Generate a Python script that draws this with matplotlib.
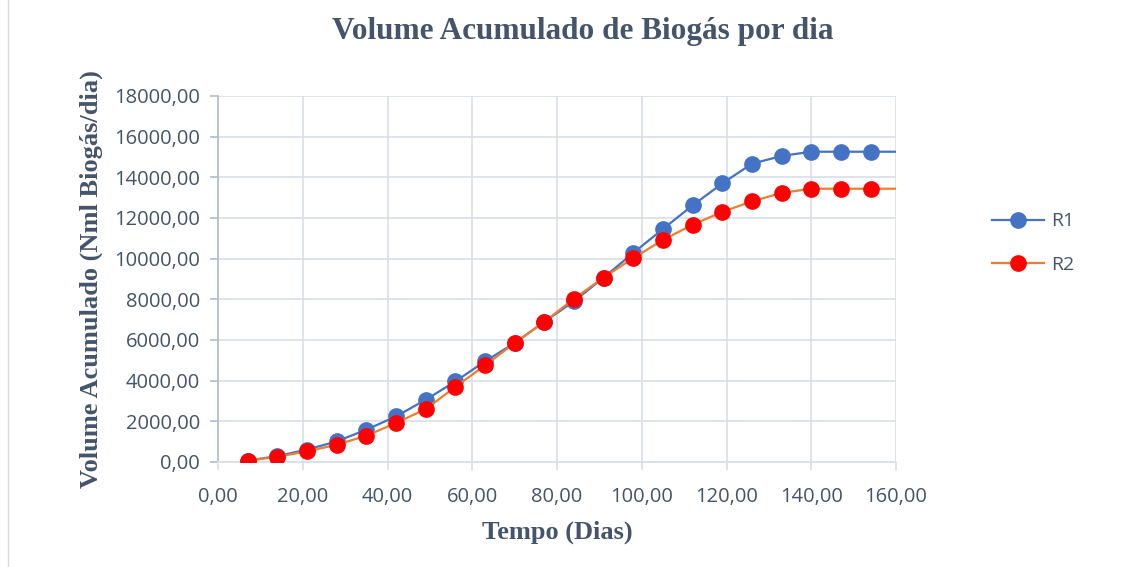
import matplotlib
matplotlib.use("Agg")
import matplotlib.pyplot as plt
from matplotlib.ticker import FuncFormatter, MultipleLocator

# Data (days, cumulative volume); last point at 161 lies just beyond the axis limit
dias = [7, 14, 21, 28, 35, 42, 49, 56, 63, 70, 77, 84, 91, 98, 105, 112, 119, 126,
        133, 140, 147, 154, 161]
r1 = [70, 290, 610, 1010, 1590, 2240, 3060, 3960, 4950, 5850, 6900, 7900, 9070,
      10280, 11460, 12620, 13700, 14670, 15050, 15260, 15260, 15260, 15260]
r2 = [60, 260, 520, 850, 1290, 1920, 2600, 3690, 4750, 5850, 6890, 8030, 9070,
      10030, 10920, 11670, 12300, 12820, 13230, 13440, 13440, 13440, 13440]
series_names = ["R1", "R2"]
title = "Volume Acumulado de Biogás por dia"
xlabel = "Tempo (Dias)"
ylabel = "Volume Acumulado (Nml Biogás/dia)"

fig = plt.figure(figsize=(11.45, 5.67), dpi=100)
ax = fig.add_axes([218/1145, 1-462/567, (896-218)/1145, (462-96)/567])

nmark = len(dias) - 1
ax.plot(dias, r1, color="#4472C4", lw=1.6, marker="o", ms=11,
        markerfacecolor="#4472C4", markeredgecolor="#4472C4",
        markevery=list(range(nmark)), label=series_names[0], zorder=3, clip_on=True)
ax.plot(dias, r2, color="#ED7D31", lw=1.6, marker="o", ms=11,
        markerfacecolor="#FF0000", markeredgecolor="#FF0000",
        markevery=list(range(nmark)), label=series_names[1], zorder=4, clip_on=True)

ax.set_xlim(0, 160)
ax.set_ylim(0, 18000)
ax.xaxis.set_major_locator(MultipleLocator(20))
ax.yaxis.set_major_locator(MultipleLocator(2000))
fmt = FuncFormatter(lambda v, p: f"{v:.2f}".replace(".", ","))
ax.xaxis.set_major_formatter(fmt)
ax.yaxis.set_major_formatter(fmt)

grid_c = "#D9DEE6"
txt_c = "#44546A"
ax.grid(True, color=grid_c, lw=1.2)
ax.set_axisbelow(True)
for s in ["top", "right"]:
    ax.spines[s].set_visible(False)
ax.spines["bottom"].set_color(grid_c)
ax.spines["bottom"].set_linewidth(1.2)
ax.spines["left"].set_color("#B0BCCC")
ax.spines["left"].set_linewidth(1.2)
ax.tick_params(axis="both", labelcolor=txt_c, labelsize=14.5, length=6, width=1.2)
ax.tick_params(axis="x", color=grid_c, pad=12)
ax.tick_params(axis="y", color="#B0BCCC", pad=7)
for lab in ax.get_xticklabels() + ax.get_yticklabels():
    lab.set_fontfamily("Open Sans")

fig.text(583/1145, 1-32/567, title, ha="center", va="center", fontsize=22.5,
         fontweight="bold", family="Liberation Serif", color=txt_c)
ax.set_xlabel(xlabel, fontsize=19, fontweight="bold", family="Liberation Serif",
              color=txt_c, labelpad=10)
ax.set_ylabel(ylabel, fontsize=19, fontweight="bold", family="Liberation Serif",
              color=txt_c, labelpad=8)

leg = ax.legend(loc="center left", bbox_to_anchor=(974/1145, 1-243/567),
                bbox_transform=fig.transFigure, frameon=False, fontsize=14,
                handlelength=2.7, labelspacing=1.3, handletextpad=0.35)
for t in leg.get_texts():
    t.set_color(txt_c)
    t.set_fontfamily("Open Sans")

fig.add_artist(plt.Line2D([8/1145, 8/1145], [0, 1], color="#D9D9D9", lw=1,
                          transform=fig.transFigure))

fig.savefig("out.png", dpi=100)
